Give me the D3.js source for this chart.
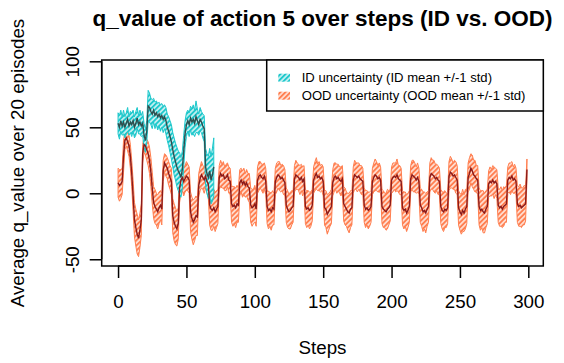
<!DOCTYPE html>
<html>
<head>
<meta charset="utf-8">
<script src="https://cdn.jsdelivr.net/npm/d3@7/dist/d3.min.js"></script>
<style>
  body { margin: 0; background: #fff; }
  svg { display: block; font-family: "Liberation Sans", Arial, Helvetica, sans-serif; }
</style>
</head>
<body>
<div id="chart"></div>
<script>
// OOD mean / std per step (0..299)
const oodMean = [
  8, 6, 7, 9, 28, 40, 42, 39, 36, 28,
  15, -2, -20, -26, -31, -34, -28, -20, 30, 37,
  36, 33, 30, 25, 16, 4, -7, -10, -12, -14,
  -11, -9, -12, 17, 23, 21, 19, 15, 12, 9,
  -17, -22, -25, -27, -23, 4, 10, 12, 9, 11,
  13, 12, 10, -14, -19, -22, -20, -17, -18, 6,
  11, 14, 12, 10, 13, 9, 7, -9, -12, -13,
  -11, -14, -12, -10, 12, 15, 13, 14, 11, 12,
  14, 10, 9, -8, -10, -9, -11, -8, -9, 8,
  10, 7, 9, 6, 8, 5, 4, -9, -11, -10,
  -8, -12, 10, 13, 14, 12, 11, 13, 9, -10,
  -13, -12, -14, -11, -12, 9, 12, 14, 13, 11,
  12, 10, 8, -9, -12, -14, -13, -11, -10, 11,
  14, 13, 12, 10, 12, 9, 11, -10, -12, -11,
  -13, -12, -9, 10, 13, 15, 12, 13, 11, 12,
  9, -11, -12, -16, -14, -12, -10, 8, 12, 13,
  11, 12, 10, 9, 11, -8, -10, -12, -14, -15,
  -12, -11, 10, 14, 13, 12, 13, 11, 10, 9,
  -9, -12, -11, -13, -12, -10, 9, 12, 14, 13,
  11, 12, 10, -10, -12, -13, -14, -12, -11, -9,
  10, 12, 13, 12, 14, 11, 10, 9, -11, -13,
  -12, -15, -13, -10, 11, 14, 13, 12, 10, 12,
  9, -9, -11, -14, -13, -15, -12, -10, 12, 15,
  14, 13, 11, 12, 10, 9, -10, -13, -14, -12,
  -13, -11, 13, 16, 15, 13, 14, 12, 10, -11,
  -14, -16, -13, -15, -12, -10, 12, 15, 19, 17,
  14, 13, 11, 10, -10, -13, -12, -14, -15, -12,
  -10, 7, 9, 8, 10, 8, 9, 7, -9, -11,
  -10, -12, -10, -9, -8, 10, 12, 11, 13, 10,
  11, 9, -8, -10, -9, -11, -10, -9, -8, 18
];
const oodSd = [
  11, 12, 11, 10, 12, 7, 6, 7, 8, 9,
  10, 12, 13, 14, 15, 14, 13, 12, 7, 6,
  7, 8, 9, 10, 11, 12, 12, 13, 12, 13,
  12, 11, 12, 8, 7, 8, 8, 9, 9, 10,
  13, 14, 14, 13, 12, 11, 10, 10, 11, 10,
  11, 10, 10, 15, 16, 17, 16, 15, 14, 9,
  9, 10, 9, 10, 9, 9, 10, 15, 16, 15,
  14, 15, 14, 13, 9, 10, 9, 10, 9, 10,
  9, 10, 10, 14, 15, 14, 15, 14, 13, 10,
  9, 10, 10, 9, 10, 10, 11, 13, 14, 13,
  14, 13, 10, 11, 10, 10, 11, 10, 10, 13,
  14, 13, 14, 13, 12, 10, 11, 10, 11, 10,
  10, 11, 10, 13, 14, 13, 14, 13, 12, 10,
  11, 10, 10, 11, 10, 11, 10, 13, 14, 13,
  14, 13, 12, 10, 11, 12, 10, 11, 10, 10,
  11, 13, 14, 15, 14, 13, 13, 10, 11, 10,
  11, 10, 10, 11, 10, 13, 14, 13, 14, 15,
  14, 13, 10, 11, 10, 11, 10, 10, 11, 10,
  13, 14, 13, 14, 13, 12, 10, 11, 12, 11,
  10, 11, 10, 13, 14, 13, 14, 15, 13, 12,
  10, 11, 10, 11, 12, 10, 11, 10, 13, 14,
  13, 14, 13, 12, 10, 11, 12, 11, 10, 11,
  10, 13, 14, 15, 14, 15, 13, 12, 11, 12,
  11, 12, 11, 10, 11, 10, 13, 14, 15, 14,
  13, 12, 11, 12, 11, 10, 11, 12, 11, 13,
  14, 15, 16, 14, 15, 13, 11, 12, 11, 12,
  11, 12, 10, 11, 14, 15, 14, 16, 15, 14,
  13, 10, 11, 10, 11, 12, 10, 11, 13, 14,
  15, 14, 15, 13, 14, 10, 11, 12, 11, 10,
  11, 10, 14, 15, 16, 15, 14, 15, 13, 8
];
// ID mean / std per step (0..70)
const idMean = [
  53, 50, 55, 51, 54, 50, 53, 56, 51, 54,
  52, 55, 50, 53, 57, 52, 54, 51, 53, 44,
  40, 47, 66, 65, 62, 60, 63, 59, 61, 58,
  60, 57, 59, 56, 58, 55, 50, 47, 43, 39,
  33, 28, 24, 20, 17, 15, 12, 18, 32, 45,
  52, 55, 52, 57, 54, 56, 53, 58, 55, 52,
  56, 54, 51, 49, 20, 15, 12, 17, 10, 14,
  20
];
const idSd = [
  8, 9, 8, 7, 9, 8, 8, 9, 7, 8,
  9, 8, 8, 9, 8, 7, 9, 8, 9, 9,
  9, 8, 12, 11, 10, 11, 9, 10, 9, 10,
  9, 10, 9, 10, 9, 10, 10, 11, 12, 13,
  13, 14, 14, 15, 15, 16, 15, 14, 12, 10,
  9, 8, 9, 9, 10, 11, 10, 12, 9, 8,
  9, 8, 9, 10, 14, 15, 16, 17, 18, 20,
  22
];
const xTicks = [0, 50, 100, 150, 200, 250, 300];
const yTicks = [-50, 0, 50, 100];
const legendLabels = ['ID uncertainty (ID mean +/-1 std)', 'OOD uncertainty (OOD mean +/-1 std)'];

const W = 564, H = 363;
const box = { left: 101.7, right: 543.3, top: 60, bottom: 266 };

const idCol = '#1ec8cc', idLine = '#2f4f4f';
const oodCol = '#ff7f50', oodLine = '#8b1a1a';

const svg = d3.select('#chart').append('svg')
  .attr('width', W)
  .attr('height', H);

const x = d3.scaleLinear().domain([-11.96, 310.96]).range([box.left, box.right]);
const y = d3.scaleLinear().domain([-55.1, 101]).range([box.bottom, box.top]);

// hatch patterns
const defs = svg.append('defs');
function hatch(id, col) {
  const p = defs.append('pattern')
    .attr('id', id)
    .attr('patternUnits', 'userSpaceOnUse')
    .attr('width', 3.6)
    .attr('height', 3.6)
    .attr('patternTransform', 'rotate(45)');
  p.append('rect').attr('width', 3.6).attr('height', 3.6).attr('fill', col);
  p.append('line')
    .attr('x1', 1.8).attr('y1', 0).attr('x2', 1.8).attr('y2', 3.6)
    .attr('stroke', '#fff').attr('stroke-width', 1.3);
}
hatch('hatchId', idCol);
hatch('hatchOod', oodCol);

const band = (mean, sd) => d3.area()
  .x((d, i) => x(i))
  .y0((d, i) => y(mean[i] - sd[i]))
  .y1((d, i) => y(mean[i] + sd[i]))(mean);

const line = d3.line()
  .x((d, i) => x(i))
  .y(d => y(d));

const plot = svg.append('g');

plot.append('path')
  .attr('d', band(oodMean, oodSd))
  .attr('fill', 'url(#hatchOod)')
  .attr('stroke', oodCol)
  .attr('stroke-width', 1);

plot.append('path')
  .attr('d', band(idMean, idSd))
  .attr('fill', 'url(#hatchId)')
  .attr('stroke', idCol)
  .attr('stroke-width', 1);

plot.append('path')
  .attr('d', line(oodMean))
  .attr('fill', 'none')
  .attr('stroke', oodLine)
  .attr('stroke-width', 1.4);

plot.append('path')
  .attr('d', line(idMean))
  .attr('fill', 'none')
  .attr('stroke', idLine)
  .attr('stroke-width', 1.4);

// frame
svg.append('rect')
  .attr('x', box.left).attr('y', box.top)
  .attr('width', box.right - box.left).attr('height', box.bottom - box.top)
  .attr('fill', 'none').attr('stroke', '#000').attr('stroke-width', 1.5);

// x axis
const xAxis = svg.append('g')
  .attr('transform', `translate(0,${box.bottom})`)
  .call(d3.axisBottom(x).tickValues(xTicks).tickSize(12).tickPadding(17));
xAxis.select('.domain')
  .attr('d', `M${x(0)},0H${x(300)}`)
  .attr('stroke-width', 1.5);
xAxis.selectAll('.tick line').attr('stroke-width', 1.5);
xAxis.selectAll('.tick text')
  .attr('font-size', 18.75)
  .attr('font-family', '"Liberation Sans", Arial, sans-serif')
  .attr('fill', '#000');

// y axis
const yAxis = svg.append('g')
  .attr('transform', `translate(${box.left},0)`)
  .call(d3.axisLeft(y).tickValues(yTicks).tickSize(12).tickFormat(''));
yAxis.select('.domain')
  .attr('d', `M0,${y(-50)}V${y(100)}`)
  .attr('stroke-width', 1.5);
yAxis.selectAll('.tick line').attr('stroke-width', 1.5);
yAxis.selectAll('.tick')
  .append('text')
  .attr('transform', 'translate(-23,0) rotate(-90)')
  .attr('text-anchor', 'middle')
  .attr('font-size', 18.75)
  .attr('fill', '#000')
  .text(d => d);

// titles
svg.append('text')
  .attr('x', (box.left + box.right) / 2)
  .attr('y', 26)
  .attr('text-anchor', 'middle')
  .attr('font-size', 22.5)
  .attr('font-weight', 'bold')
  .text('q_value of action 5 over steps (ID vs. OOD)');

svg.append('text')
  .attr('x', (box.left + box.right) / 2)
  .attr('y', 354)
  .attr('text-anchor', 'middle')
  .attr('font-size', 18.75)
  .text('Steps');

svg.append('text')
  .attr('transform', `translate(24,${(box.top + box.bottom) / 2}) rotate(-90)`)
  .attr('text-anchor', 'middle')
  .attr('font-size', 18.75)
  .text('Average q_value over 20 episodes');

// legend
const lg = svg.append('g').attr('transform', `translate(${box.right - 276.6},${box.top})`);
lg.append('rect')
  .attr('width', 276.6).attr('height', 51)
  .attr('fill', '#fff').attr('stroke', '#000').attr('stroke-width', 1.5);
const fills = ['url(#hatchId)', 'url(#hatchOod)'];
legendLabels.forEach((lab, i) => {
  const row = lg.append('g').attr('transform', `translate(0,${17.7 + i * 18})`);
  row.append('rect')
    .attr('x', 11.6).attr('y', -4).attr('width', 11.7).attr('height', 8)
    .attr('fill', fills[i]);
  row.append('text')
    .attr('x', 35)
    .attr('dy', '0.35em')
    .attr('font-size', 13.1)
    .text(lab);
});
</script>
</body>
</html>
